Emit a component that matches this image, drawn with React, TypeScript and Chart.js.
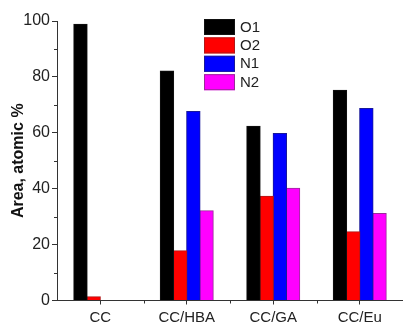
import React, { useEffect, useRef } from "react";
import { Chart, registerables } from "chart.js";

Chart.register(...registerables);

const categories = ["CC", "CC/HBA", "CC/GA", "CC/Eu"];
const seriesNames = ["O1", "O2", "N1", "N2"];
const o1 = [98.8, 82.1, 62.3, 75.2];
const o2 = [1.3, 17.8, 37.3, 24.6];
const n1 = [0, 67.6, 59.7, 68.7];
const n2 = [0, 32.1, 40.1, 31.1];
const fillColors = ["#000000", "#ff0000", "#0000ff", "#ff00ff"];
const edgeColors = ["#111111", "#b01818", "#18189a", "#9a2a9a"];
const yMajorTicks = [0, 20, 40, 60, 80, 100];
const yMinorTicks = [10, 30, 50, 70, 90];

const FONT = "'Liberation Sans', Arial, sans-serif";

const decorPlugin = {
  id: "decor",
  afterDraw(chart: any) {
    const ctx = chart.ctx;
    const ys = chart.scales.y;
    const xs = chart.scales.x;
    const area = chart.chartArea;
    ctx.save();
    ctx.strokeStyle = "#333";
    ctx.lineWidth = 1;
    yMinorTicks.forEach((v) => {
      const py = Math.round(ys.getPixelForValue(v)) + 0.5;
      ctx.beginPath();
      ctx.moveTo(area.left - 3, py);
      ctx.lineTo(area.left, py);
      ctx.stroke();
    });
    for (let i = 0; i < categories.length - 1; i++) {
      const px = Math.round((xs.getPixelForValue(i) + xs.getPixelForValue(i + 1)) / 2) + 0.5;
      ctx.beginPath();
      ctx.moveTo(px, area.bottom);
      ctx.lineTo(px, area.bottom + 3);
      ctx.stroke();
    }
    const lx = 204;
    let ly = 19;
    ctx.font = `15px ${FONT}`;
    ctx.textBaseline = "middle";
    ctx.textAlign = "left";
    chart.data.datasets.forEach((ds: any) => {
      ctx.fillStyle = ds.backgroundColor;
      ctx.fillRect(lx, ly, 31, 16);
      ctx.strokeStyle = ds.borderColor;
      ctx.strokeRect(lx + 0.5, ly + 0.5, 30, 15);
      ctx.fillStyle = "#222";
      ctx.fillText(ds.label, lx + 36, ly + 8.5);
      ly += 18.4;
    });
    ctx.restore();
  },
};

export default function App() {
  const ref = useRef<HTMLCanvasElement>(null);
  useEffect(() => {
    document.body.style.margin = "0";
    const seriesData = [o1, o2, n1, n2];
    const chart = new Chart(ref.current!, {
      type: "bar",
      data: {
        labels: categories,
        datasets: seriesNames.map((name, i) => ({
          label: name,
          data: seriesData[i],
          backgroundColor: fillColors[i],
          borderColor: edgeColors[i],
          borderWidth: 1,
          borderSkipped: "start",
          inflateAmount: 0.6,
          barPercentage: 1,
          categoryPercentage: 0.61,
        })),
      },
      options: {
        animation: false,
        responsive: false,
        maintainAspectRatio: false,
        datasets: { bar: { barPercentage: 1, categoryPercentage: 0.61 } },
        layout: { padding: { top: 21, right: 0, left: 0, bottom: 0 } },
        plugins: {
          legend: { display: false },
          tooltip: { enabled: false },
        },
        scales: {
          x: {
            grid: {
              display: true,
              drawOnChartArea: false,
              drawTicks: true,
              tickLength: 4,
              offset: false,
              color: "#333",
            },
            border: { display: true, color: "#333", width: 1 },
            ticks: {
              color: "#222",
              font: { family: FONT, size: 15 },
              padding: 4,
              maxRotation: 0,
            },
            afterFit(scale: any) {
              scale.height = 24.5;
            },
          },
          y: {
            min: 0,
            max: 100,
            afterBuildTicks(scale: any) {
              scale.ticks = yMajorTicks.map((v) => ({ value: v }));
            },
            grid: {
              display: true,
              drawOnChartArea: false,
              drawTicks: true,
              tickLength: 5,
              color: "#333",
            },
            border: { display: true, color: "#333", width: 1 },
            ticks: {
              color: "#222",
              font: { family: FONT, size: 16 },
              padding: 2,
            },
            title: {
              display: true,
              text: "Area, atomic %",
              color: "#111",
              font: { family: FONT, size: 16, weight: "bold" },
              padding: { top: 9, bottom: 2 },
            },
            afterFit(scale: any) {
              scale.width = 57;
            },
          },
        },
      },
      plugins: [decorPlugin],
    });
    return () => chart.destroy();
  }, []);
  return (
    <div style={{ width: 403, height: 325 }}>
      <canvas ref={ref} width={403} height={325} style={{ display: "block" }} />
    </div>
  );
}
